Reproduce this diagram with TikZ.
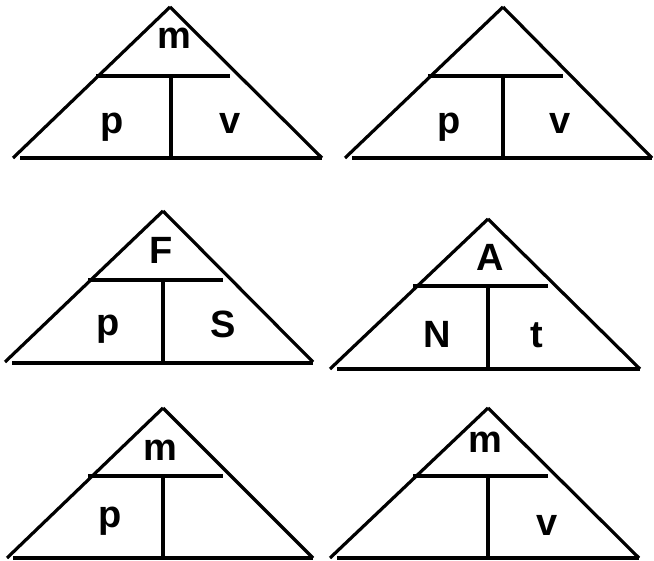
\documentclass[tikz,border=0pt]{standalone}
\usepackage{fontspec}
\setmainfont{Liberation Sans}
\begin{document}
\begin{tikzpicture}[x=1pt,y=-1pt,
  edge/.style={line width=3.2pt},
  lbl/.style={anchor=base,inner sep=0pt,font=\fontsize{38}{38}\selectfont\bfseries}]
\useasboundingbox (0,0) rectangle (654,561);
% Triangle 1
\draw[edge] (170,7) -- (13,158);
\draw[edge] (170,7) -- (322,158);
\draw[edge] (20,158) -- (322,158);
\draw[edge] (96,76) -- (230,76);
\draw[edge] (171,76) -- (171,158);
\node[lbl] (t1m) at (174,49) {m};
\node[lbl] (t1p) at (112,134) {p};
\node[lbl] (t1v) at (230,134) {v};
% Triangle 2
\draw[edge] (503,7) -- (345,158);
\draw[edge] (503,7) -- (652,158);
\draw[edge] (352,158) -- (652,158);
\draw[edge] (428,76) -- (563,76);
\draw[edge] (503,76) -- (503,158);
\node[lbl] (t2p) at (449,134) {p};
\node[lbl] (t2v) at (560,134) {v};
% Triangle 3
\draw[edge] (163,211) -- (5,362);
\draw[edge] (163,211) -- (313,362);
\draw[edge] (12,363) -- (313,363);
\draw[edge] (88,280) -- (223,280);
\draw[edge] (163,280) -- (163,363);
\node[lbl] (t3F) at (161,264) {F};
\node[lbl] (t3p) at (108,336) {p};
\node[lbl] (t3S) at (223,338) {S};
% Triangle 4
\draw[edge] (488,219) -- (330,369);
\draw[edge] (488,219) -- (640,369);
\draw[edge] (337,369) -- (640,369);
\draw[edge] (413,286) -- (548,286);
\draw[edge] (488,286) -- (488,369);
\node[lbl] (t4A) at (490,271) {A};
\node[lbl] (t4N) at (437,348) {N};
\node[lbl] (t4t) at (537,348) {t};
% Triangle 5
\draw[edge] (163,408) -- (7,558);
\draw[edge] (163,408) -- (313,558);
\draw[edge] (13,558) -- (313,558);
\draw[edge] (88,476) -- (223,476);
\draw[edge] (163,476) -- (163,558);
\node[lbl] (t5m) at (160,461) {m};
\node[lbl] (t5p) at (110,528) {p};
% Triangle 6
\draw[edge] (488,408) -- (330,558);
\draw[edge] (488,408) -- (639,558);
\draw[edge] (337,558) -- (639,558);
\draw[edge] (413,476) -- (548,476);
\draw[edge] (488,476) -- (488,558);
\node[lbl] (t6m) at (485,453) {m};
\node[lbl] (t6v) at (547,536) {v};
\end{tikzpicture}
\end{document}
